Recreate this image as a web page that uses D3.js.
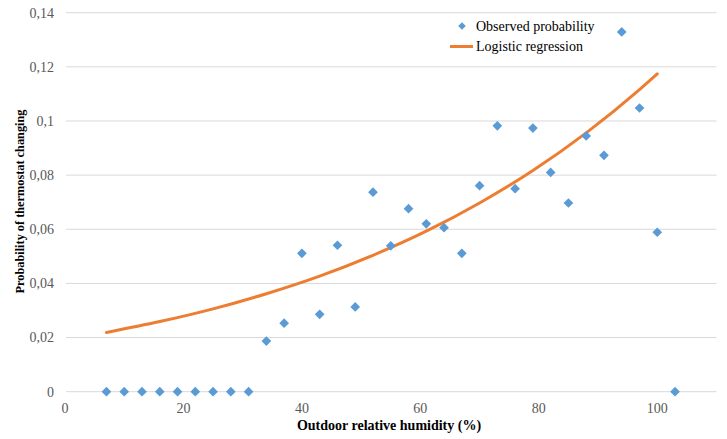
<!DOCTYPE html>
<html>
<head>
<meta charset="utf-8">
<script src="https://cdn.jsdelivr.net/npm/d3@7"></script>
<style>
  html, body { margin: 0; padding: 0; background: #ffffff; }
  svg { display: block; }
</style>
</head>
<body>
<svg id="chart" width="727" height="439"></svg>
<script>
// Observed probability (x = outdoor RH %, y = probability)
const obsX = [7, 10, 13, 16, 19, 22, 25, 28, 31, 34, 37, 40, 43, 46, 49, 52, 55, 58, 61, 64, 67, 70, 73, 76, 79, 82, 85, 88, 91, 94, 97, 100, 103];
const obsY = [0, 0, 0, 0, 0, 0, 0, 0, 0, 0.0187, 0.0253, 0.0511, 0.0286, 0.0541, 0.0313, 0.0737, 0.0539, 0.0676, 0.0620, 0.0606, 0.0511, 0.0761, 0.0982, 0.0750, 0.0974, 0.0810, 0.0697, 0.0945, 0.0873, 0.1329, 0.1048, 0.0589, 0];

// Logistic regression curve
const fitX = [7, 16, 25, 34, 43, 52, 61, 70, 79, 88, 97, 100];
const fitY = [0.0219, 0.0259, 0.0306, 0.0362, 0.0427, 0.0504, 0.0593, 0.0697, 0.0817, 0.0956, 0.1116, 0.1174];

const xTicks = [0, 20, 40, 60, 80, 100];
const yTicks = [0, 0.02, 0.04, 0.06, 0.08, 0.1, 0.12, 0.14];
const yTickLabels = ["0", "0,02", "0,04", "0,06", "0,08", "0,1", "0,12", "0,14"];
const seriesNames = ["Observed probability", "Logistic regression"];
const xTitle = "Outdoor relative humidity (%)";
const yTitle = "Probability of thermostat changing";

const svg = d3.select("#chart");
const font = "'Liberation Serif', 'Times New Roman', serif";
const blue = "#5b9bd5", orange = "#ed7d31";

const x = d3.scaleLinear().domain([0, 110]).range([65, 716.5]);
const y = d3.scaleLinear().domain([0, 0.14]).range([391.7, 12.7]);

// gridlines
svg.append("g").selectAll("line").data(yTicks).join("line")
  .attr("x1", 66).attr("x2", 716.5)
  .attr("y1", d => y(d)).attr("y2", d => y(d))
  .attr("stroke", "#d9d9d9").attr("stroke-width", 1);

// y tick labels
svg.append("g").selectAll("text").data(yTicks).join("text")
  .attr("x", 54).attr("y", d => y(d)).attr("dy", "0.35em")
  .attr("text-anchor", "end")
  .attr("font-family", font).attr("font-size", 14).attr("fill", "#595959")
  .text((d, i) => yTickLabels[i]);

// x tick labels
svg.append("g").selectAll("text").data(xTicks).join("text")
  .attr("x", d => x(d)).attr("y", 408).attr("dy", "0.35em")
  .attr("text-anchor", "middle")
  .attr("font-family", font).attr("font-size", 14).attr("fill", "#595959")
  .text(d => d);

// axis titles
svg.append("text")
  .attr("x", 389).attr("y", 425).attr("dy", "0.35em")
  .attr("text-anchor", "middle")
  .attr("font-family", font).attr("font-size", 14).attr("font-weight", "bold").attr("fill", "#000")
  .text(xTitle);
svg.append("text")
  .attr("transform", "translate(20,201.5) rotate(-90)")
  .attr("dy", "0.35em")
  .attr("text-anchor", "middle")
  .attr("font-family", font).attr("font-size", 12.3).attr("font-weight", "bold").attr("fill", "#000")
  .text(yTitle);

// fitted curve
const fit = fitX.map((v, i) => [v, fitY[i]]);
svg.append("path").datum(fit)
  .attr("fill", "none").attr("stroke", orange).attr("stroke-width", 3)
  .attr("stroke-linecap", "round")
  .attr("d", d3.line().x(d => x(d[0])).y(d => y(d[1])).curve(d3.curveMonotoneX));

// diamonds
const diamond = d3.symbol().type(d3.symbolDiamond2).size(60);
const obs = obsX.map((v, i) => [v, obsY[i]]);
svg.append("g").selectAll("path").data(obs).join("path")
  .attr("transform", d => `translate(${x(d[0])},${y(d[1])})`)
  .attr("d", diamond)
  .attr("fill", blue);

// legend
const lg = svg.append("g");
lg.append("path").attr("transform", "translate(462,26)")
  .attr("d", d3.symbol().type(d3.symbolDiamond2).size(36)).attr("fill", blue);
lg.append("line").attr("x1", 450).attr("x2", 473).attr("y1", 46.5).attr("y2", 46.5)
  .attr("stroke", orange).attr("stroke-width", 3);
lg.selectAll("text").data(seriesNames).join("text")
  .attr("x", 476).attr("y", (d, i) => 26 + i * 20.5).attr("dy", "0.35em")
  .attr("font-family", font).attr("font-size", 14).attr("fill", "#000")
  .text(d => d);
</script>
</body>
</html>
